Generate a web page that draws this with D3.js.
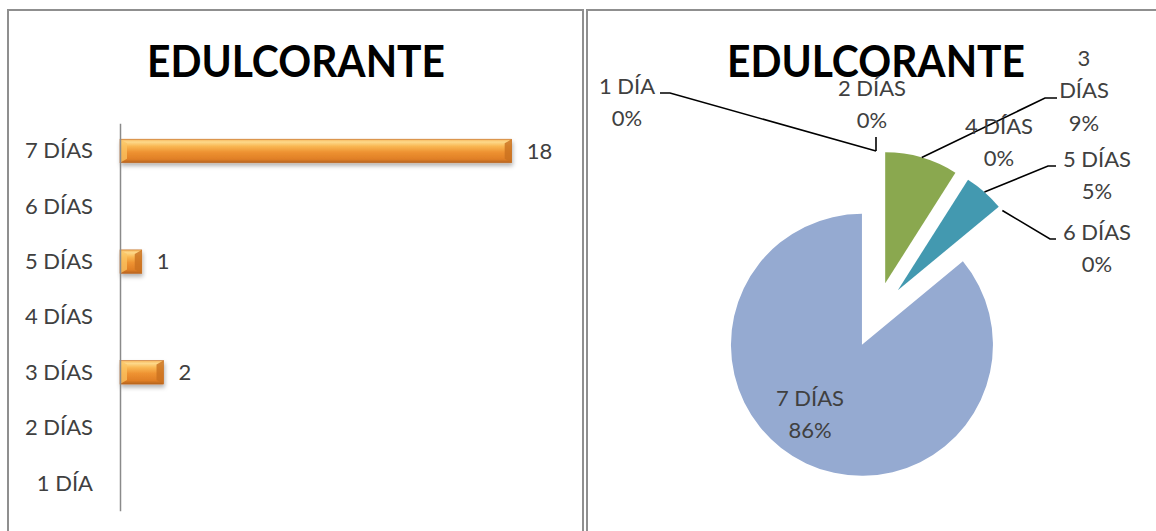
<!DOCTYPE html>
<html>
<head>
<meta charset="utf-8">
<script src="https://cdn.jsdelivr.net/npm/d3@7"></script>
<style>
  html, body { margin: 0; padding: 0; background: #ffffff; }
  svg { display: block; }
  text { font-family: Lato, "Noto Sans", sans-serif; }
</style>
</head>
<body>
<svg id="chart" width="1156" height="531"></svg>
<script>
// Days per week that sweetener is used
const categories = ["1 DÍA", "2 DÍAS", "3 DÍAS", "4 DÍAS", "5 DÍAS", "6 DÍAS", "7 DÍAS"];
const counts = [0, 0, 2, 0, 1, 0, 18];
const percents = [0, 0, 9, 0, 5, 0, 86];
const countAxisMax = 20;
const chartTitle = "EDULCORANTE";

const svg = d3.select("#chart");
const defs = svg.append("defs");

// ---------- shared defs ----------
const grad = defs.append("linearGradient")
  .attr("id", "barGrad").attr("x1", 0).attr("y1", 0).attr("x2", 0).attr("y2", 1);
[["0%", "#f7b55a"], ["12%", "#fdd98a"], ["30%", "#f9b752"], ["55%", "#ee9231"],
 ["85%", "#e07f26"], ["100%", "#b4621e"]]
  .forEach(([o, c]) => grad.append("stop").attr("offset", o).attr("stop-color", c));

const shadow = defs.append("filter").attr("id", "barShadow")
  .attr("x", "-10%").attr("y", "-30%").attr("width", "130%").attr("height", "190%");
shadow.append("feDropShadow").attr("dx", 1).attr("dy", 3).attr("stdDeviation", 2)
  .attr("flood-color", "#000").attr("flood-opacity", 0.3);

// ---------- panel frames ----------
const frameColor = "#8f8f8f";
svg.append("rect").attr("x", 8).attr("y", 10).attr("width", 575).attr("height", 540)
  .attr("fill", "#fff").attr("stroke", frameColor).attr("stroke-width", 2);
svg.append("rect").attr("x", 587).attr("y", 10).attr("width", 600).attr("height", 540)
  .attr("fill", "#fff").attr("stroke", frameColor).attr("stroke-width", 2);

const textColor = "#404040";

// ---------- left: horizontal bar chart ----------
const left = svg.append("g");

left.append("text")
  .attr("x", 296).attr("y", 77)
  .attr("text-anchor", "middle")
  .attr("font-weight", "bold").attr("font-size", 43).attr("fill", "#000")
  .attr("textLength", 298).attr("lengthAdjust", "spacingAndGlyphs")
  .text(chartTitle);

const y = d3.scaleBand()
  .domain(categories.slice().reverse())
  .range([123.3, 510.7])
  .paddingInner(0.575)
  .paddingOuter(0.2875);

const x = d3.scaleLinear().domain([0, countAxisMax]).range([120, 555.2]);

const barData = categories.map((c, i) => ({ cat: c, value: counts[i] }))
  .filter(d => d.value > 0);

const bars = left.append("g").selectAll("g.bar").data(barData).join("g").attr("class", "bar");

bars.append("rect")
  .attr("x", x(0))
  .attr("y", d => y(d.cat))
  .attr("width", d => x(d.value) - x(0))
  .attr("height", y.bandwidth())
  .attr("fill", "url(#barGrad)")
  .attr("stroke", "#c06a22").attr("stroke-width", 0.6)
  .attr("filter", "url(#barShadow)");

// bevelled ends
const bev = 7;
bars.append("path")
  .attr("d", d => {
    const x0 = x(0), y0 = y(d.cat), y1 = y0 + y.bandwidth();
    return `M${x0},${y0}L${x0 + bev},${y0 + 4}L${x0 + bev},${y1 - 4}L${x0},${y1}Z`;
  })
  .attr("fill", "#fbc463").attr("opacity", 0.75);
bars.append("path")
  .attr("d", d => {
    const x1 = x(d.value), y0 = y(d.cat), y1 = y0 + y.bandwidth();
    return `M${x1},${y0}L${x1 - bev},${y0 + 4}L${x1 - bev},${y1 - 4}L${x1},${y1}Z`;
  })
  .attr("fill", "#c9701f").attr("opacity", 0.8);

// value labels
left.append("g").selectAll("text").data(barData).join("text")
  .attr("x", d => x(d.value) + 15)
  .attr("y", d => y(d.cat) + y.bandwidth() / 2)
  .attr("dy", "0.35em")
  .attr("font-size", 22).attr("fill", textColor)
  .text(d => d.value);

// category axis
const axisG = left.append("g")
  .attr("transform", `translate(${x(0)},0)`)
  .call(d3.axisLeft(y).tickSize(0).tickPadding(27));
axisG.select(".domain").attr("stroke", "#8a8a8a").attr("stroke-width", 1.5);
axisG.selectAll(".tick text")
  .attr("font-family", "Lato, 'Noto Sans', sans-serif")
  .attr("font-size", 22).attr("fill", textColor)
  .attr("dy", "0.34em");

// ---------- right: exploded pie chart ----------
const right = svg.append("g");

right.append("text")
  .attr("x", 876).attr("y", 77)
  .attr("text-anchor", "middle")
  .attr("font-weight", "bold").attr("font-size", 43).attr("fill", "#000")
  .attr("textLength", 298).attr("lengthAdjust", "spacingAndGlyphs")
  .text(chartTitle);

const cx = 876, cy = 315, radius = 131, explode = 33;
const sliceColors = ["#4f81bd", "#c0504d", "#8aa84f", "#8064a2", "#4399b0", "#f79646", "#95aad1"];

const pieData = d3.pie().sort(null).value(d => d.value)
  (categories.map((c, i) => ({ cat: c, value: percents[i], idx: i })));

const arc = d3.arc().innerRadius(0).outerRadius(radius);
const midA = d => (d.startAngle + d.endAngle) / 2;
const polar = (a, r) => [cx + r * Math.sin(a), cy - r * Math.cos(a)];

const pieG = right.append("g");
pieData.filter(d => d.value > 0).forEach(d => {
  const [ox, oy] = polar(midA(d), explode);
  pieG.append("path")
    .attr("d", arc(d))
    .attr("transform", `translate(${ox},${oy})`)
    .attr("fill", sliceColors[d.data.idx]);
});

// label placement (text centre x, first line centre y, wrapped lines, leader elbow)
const labelLayout = {
  "1 DÍA":  { x: 627,  y: 86,  lines: ["1 DÍA"],        leader: [[660, 93], [670, 93]] },
  "2 DÍAS": { x: 872,  y: 88,  lines: ["2 DÍAS"],       leader: [[876, 137]] },
  "3 DÍAS": { x: 1084, y: 58,  lines: ["3", "DÍAS"],    leader: [[1057, 98], [1045, 98]] },
  "4 DÍAS": { x: 999,  y: 126, lines: ["4 DÍAS"],       leader: null },
  "5 DÍAS": { x: 1097, y: 159, lines: ["5 DÍAS"],       leader: [[1056, 166], [1048, 166]] },
  "6 DÍAS": { x: 1097, y: 232, lines: ["6 DÍAS"],       leader: [[1056, 239], [1050, 239]] },
  "7 DÍAS": { x: 810,  y: 398, lines: ["7 DÍAS"],       leader: null }
};
const lineGap = 32.5;

const leaderG = right.append("g");
const labelG = right.append("g");

pieData.forEach(d => {
  const lay = labelLayout[d.data.cat];
  if (lay.leader) {
    const anchor = polar(midA(d), radius + explode);
    const pts = lay.leader.concat([anchor]);
    leaderG.append("path")
      .attr("d", d3.line()(pts))
      .attr("fill", "none").attr("stroke", "#000").attr("stroke-width", 1.6);
  }
  const lines = lay.lines.concat([d.value + "%"]);
  const t = labelG.append("text")
    .attr("text-anchor", "middle")
    .attr("font-size", 22).attr("fill", textColor);
  lines.forEach((ln, k) => {
    t.append("tspan").attr("x", lay.x).attr("y", lay.y + k * lineGap)
      .attr("dy", "0.36em").text(ln);
  });
});
</script>
</body>
</html>
